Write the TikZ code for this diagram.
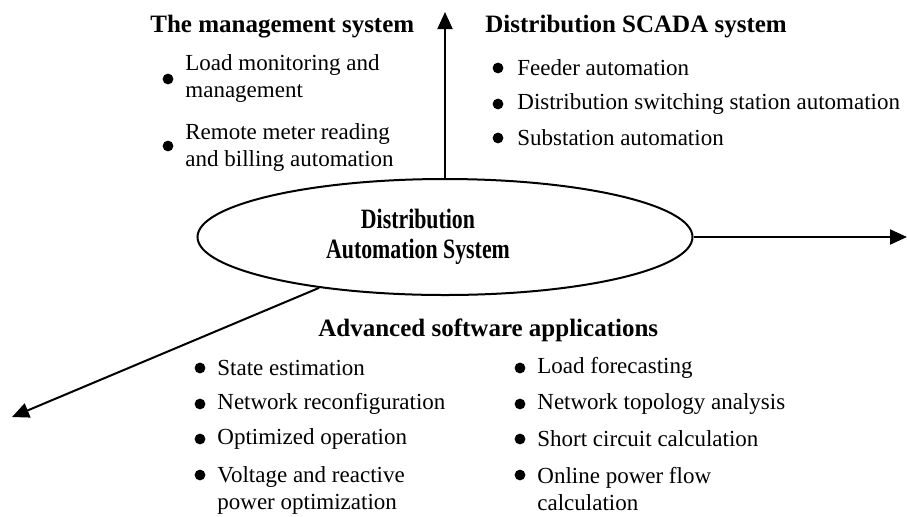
\documentclass[tikz,border=0pt]{standalone}
\usepackage{fontspec}
\setmainfont{Liberation Serif}
\usetikzlibrary{arrows.meta,shapes.geometric}
\tikzset{
  head/.style={anchor=west,inner sep=0pt,font=\fontsize{12.5}{15}\selectfont\bfseries},
  item/.style={anchor=west,inner sep=0pt,align=left,font=\fontsize{11.5}{13.5}\selectfont},
  bul/.style={circle,fill,inner sep=0pt,minimum size=5.4pt},
  link/.style={line width=1pt,->,>={Triangle[length=8.5pt,width=7.5pt]}}
}

\begin{document}
\begin{tikzpicture}[x=0.5pt,y=-0.5pt]
\useasboundingbox (0,0) rectangle (907,516);
\node [ellipse,draw,line width=1pt,minimum width=247.5pt,minimum height=58pt,inner sep=0pt] (das) at (445,237) {};
\node [inner sep=0pt,font=\fontsize{14}{15}\selectfont\bfseries] (dastxt) at (418,237)
  {\scalebox{.78}[1]{\begin{tabular}{@{}c@{}}Distribution\\Automation System\end{tabular}}};

\coordinate (top) at (445,12);
\coordinate (right) at (907,237);
\coordinate (low) at (12,417);
\draw [link] (das.north) -- (top);
\draw [link] (das.east) -- (right);
\draw [link] (das.202) -- (low);

% management
\node [head] (mgt) at (150,27) {The management system};
\node [bul] (m1) at (168,79) {};
\node [item] (mt1) at (185,78.5) {Load monitoring and\\management};
\node [bul] (m2) at (168,146) {};
\node [item] (mt2) at (185,147) {Remote meter reading\\and billing automation};

% scada
\node [head] (scada) at (485,27) {Distribution SCADA system};
\node [bul] (s1) at (498,68) {};
\node [item] (st1) at (517,68) {Feeder automation};
\node [bul] (s2) at (498,104) {};
\node [item] (st2) at (517,104) {Distribution switching station automation};
\node [bul] (s3) at (498,138) {};
\node [item] (st3) at (517,138) {Substation automation};

% software
\node [head] (soft) at (318,330) {Advanced software applications};
\node [bul] (a1) at (200,368) {};
\node [item] (at1) at (217,368) {State estimation};
\node [bul] (a2) at (200,404) {};
\node [item] (at2) at (217,404) {Network reconfiguration};
\node [bul] (a3) at (200,439) {};
\node [item] (at3) at (217,439) {Optimized operation};
\node [bul] (a4) at (200,475) {};
\node [item] (at4) at (217,490) {Voltage and reactive\\power optimization};
\node [bul] (b1) at (520,368) {};
\node [item] (bt1) at (537,368) {Load forecasting};
\node [bul] (b2) at (520,404) {};
\node [item] (bt2) at (537,404) {Network topology analysis};
\node [bul] (b3) at (520,439) {};
\node [item] (bt3) at (537,439) {Short circuit calculation};
\node [bul] (b4) at (520,475) {};
\node [item] (bt4) at (537,489) {Online power flow\\calculation};
\end{tikzpicture}
\end{document}
